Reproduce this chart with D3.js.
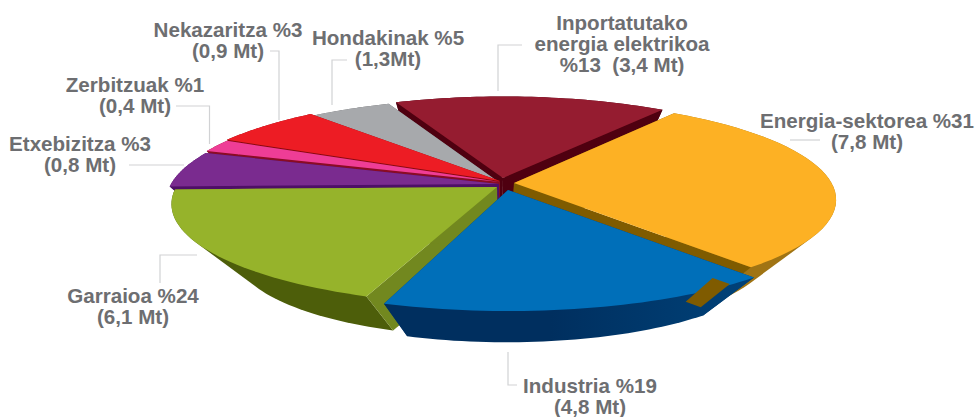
<!DOCTYPE html>
<html><head><meta charset="utf-8">
<script src="https://cdn.jsdelivr.net/npm/d3@7/dist/d3.min.js"></script>
<style>html,body{margin:0;padding:0;background:#fff}svg{display:block}
text{font-family:"Liberation Sans",Arial,sans-serif;font-weight:700;font-size:20.6px;fill:#6d6e71;white-space:pre}</style>
</head><body><div id="chart"></div>
<script>
// Data
const categories = ["Energia-sektorea","Industria","Garraioa","Etxebizitza","Zerbitzuak","Nekazaritza","Hondakinak","Inportatutako energia elektrikoa"];
const percentLabels = [31,19,24,3,1,3,5,13];
const megatonnes = [7.8,4.8,6.1,0.8,0.4,0.9,1.3,3.4];
// The artwork does not draw slices strictly to the labelled shares: sweep of each slice as drawn, in degrees
const drawnSweep = [104.4,59,70.2,20.5,7.2,22.9,19.8,56];
const labelLines = [
  ["Energia-sektorea %31","(7,8 Mt)"],["Industria %19","(4,8 Mt)"],["Garraioa %24","(6,1 Mt)"],
  ["Etxebizitza %3","(0,8 Mt)"],["Zerbitzuak %1","(0,4 Mt)"],["Nekazaritza %3","(0,9 Mt)"],
  ["Hondakinak %5","(1,3Mt)"],["Inportatutako","energia elektrikoa","%13  (3,4 Mt)"]];

// Layout and styling, separate from the data
const W=976,H=417;
const cam={cx:500,cy:182,R:328,Rk:100,p:0.174,shrink:0.2,drop:57};
const explode=[[14,1,.968],[8,8,1],[-3,5,.978],[-1,2,1],[0,0,1],[0,-1,1],[0,1,1],[3,-4,.95]];
// gap (degrees) cut from the start and end of a slice, so the end faces of the pieces show
const trim=[[0,0],[0,0],[1.6,0],[0,0],[0,0],[0,0],[0,2.2],[-2.3,-.5]];
const topCol=["#fdb124","#006fb9","#96b32b","#7a2b8f","#ee3d96","#ed1c24","#a7a9ac","#951c30"];
const endCol=["#7f5b00","#003b6f","#72881f","#4e0f66","#8a0c24","#8b0a10","#666668","#4f0010"];
const rimCol=["#a07414","url(#blueWall)","#4d5e0a","#4e0f66","#8a0c24","#8b0a10","#666668","#4f0010"];
const drawOrder=[7,6,5,4,3,0,2,1];
const frontWallOnTop=1; // the front wall of this slice hides its own end faces
const labelAnchor=[[867,128],[590,393],[133,303],[80,151],[135,92],[228,37],[388,45],[622,30]];
const leaders=[
  [[790,140],[820,140]],[[508,352],[508,385],[517,385]],[[197,255],[160,255],[160,283]],
  [[129,165],[184,165]],[[176,106],[209.5,106],[209.5,144]],[[270,51],[279,51],[279,120]],
  [[347,60],[332,60],[332,105]],[[522,45],[498,45],[498,91]]];

const svg=d3.select("#chart").append("svg").attr("width",W).attr("height",H);
const grad=svg.append("defs").append("linearGradient").attr("id","blueWall");
grad.append("stop").attr("offset","45%").attr("stop-color","#002f5f");
grad.append("stop").attr("offset","100%").attr("stop-color","#004279");

const deg=Math.PI/180;
const pie=d3.pie().sort(null).value(d=>d).startAngle(35*deg).endAngle(395*deg);
const arcs=pie(drawnSweep);
const line=d3.line();

function project(i,a,r,z){
  const [ox,oy,rs]=explode[i];
  const X=Math.sin(a)*r*rs, Y=-Math.cos(a)*r*rs, w=1-cam.p*Y;
  const x=cam.R*X/w+ox, y=cam.Rk*Y/w+oy, s=1-cam.shrink*z;
  return [cam.cx+x*s, cam.cy+y*s+cam.drop*z];
}
function rim(i,a0,a1,z){return d3.range(0,41).map(t=>project(i,a0+(a1-a0)*t/40,1,z));}

const ends=arcs.map((d,i)=>[d.startAngle+trim[i][0]*deg,d.endAngle-trim[i][1]*deg]);
drawOrder.forEach(i=>{
  const [a0,a1]=ends[i];
  const g=svg.append("g");
  const drawRim=()=>g.append("path").attr("fill",rimCol[i])
    .attr("d",line(d3.polygonHull(rim(i,a0,a1,0).concat(rim(i,a0,a1,1))))+"Z");
  const drawEnds=()=>[a0,a1].forEach(a=>g.append("path").attr("fill",endCol[i])
    .attr("d",line([project(i,a,0,0),project(i,a,1,0),project(i,a,1,1),project(i,a,0,1)])+"Z"));
  if(i===frontWallOnTop){drawEnds();drawRim();}else{drawRim();drawEnds();}
  g.append("path").attr("fill",topCol[i])
    .attr("d",line([project(i,a0,0,0)].concat(rim(i,a0,a1,0)))+"Z");
});
// Corner edge of the energy slice that shows through the front wall in the artwork
{
  const a=ends[0][1];
  svg.append("path").attr("fill",endCol[0])
    .attr("d",line([project(0,a,1,.42),project(0,a,.93,.42),project(0,a,.93,1),project(0,a,1,1)])+"Z");
}

svg.append("g").selectAll("path").data(leaders).join("path")
  .attr("d",d=>line(d)).attr("fill","none").attr("stroke","#d1d2d4").attr("stroke-width",1.2);

const lab=svg.append("g").selectAll("text").data(labelLines).join("text")
  .attr("text-anchor","middle").attr("x",(d,i)=>labelAnchor[i][0]).attr("y",(d,i)=>labelAnchor[i][1]);
lab.selectAll("tspan").data((d,i)=>d.map(s=>({s,x:labelAnchor[i][0]}))).join("tspan")
  .attr("x",d=>d.x).attr("dy",(d,j)=>j?21:0).text(d=>d.s);
</script></body></html>
